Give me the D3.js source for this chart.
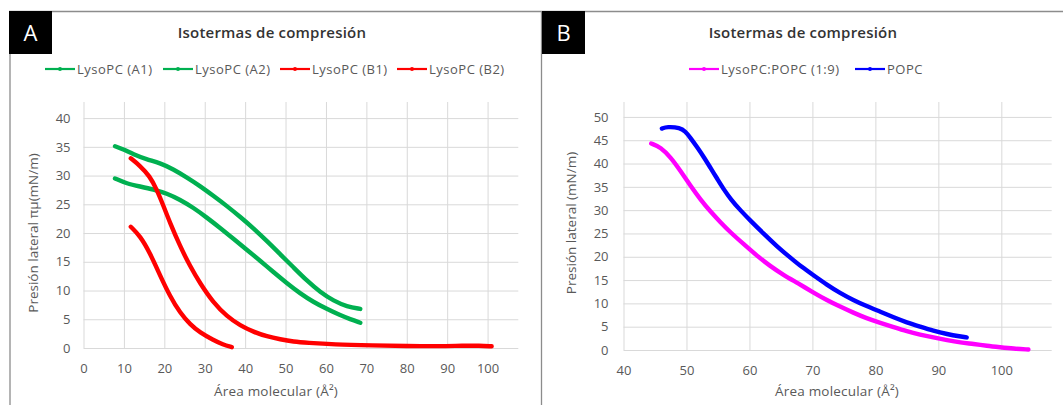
<!DOCTYPE html>
<html>
<head>
<meta charset="utf-8">
<script src="https://cdn.jsdelivr.net/npm/d3@7"></script>
<style>
  html, body { margin: 0; padding: 0; background: #fff; }
  svg { display: block; font-family: "Open Sans", "Noto Sans", sans-serif; }
</style>
</head>
<body>
<svg id="chart" width="1063" height="405"></svg>
<script>
// ---------------- DATA ----------------
const titleText = "Isotermas de compresión";
const xTitle = "Área molecular (Å²)";
const yTitleA = "Presión lateral πμ(mN/m)";
const yTitleB = "Presión lateral (mN/m)";

const xTicksA = [0, 10, 20, 30, 40, 50, 60, 70, 80, 90, 100];
const yTicksA = [0, 5, 10, 15, 20, 25, 30, 35, 40];
const xTicksB = [40, 50, 60, 70, 80, 90, 100];
const yTicksB = [0, 5, 10, 15, 20, 25, 30, 35, 40, 45, 50];

const namesA = ["LysoPC (A1)", "LysoPC (A2)", "LysoPC (B1)", "LysoPC (B2)"];
const namesB = ["LysoPC:POPC (1:9)", "POPC"];

// [area, pressure]
const lysoA1 = [[7.8,35.1],[9.8,34.6],[12.3,33.7],[15.6,32.8],[18.9,32.2],[22.2,31.1],[25.5,29.7],[28.8,28.2],[32.1,26.5],[35.5,24.7],[38.8,22.8],[42.1,20.8],[45.4,18.6],[48.7,16.3],[52.0,14.0],[55.3,11.7],[58.6,9.7],[61.9,8.2],[65.2,7.2],[68.5,6.8]];
const lysoA2 = [[7.8,29.5],[10.7,28.6],[14.0,28.1],[17.3,27.6],[20.6,26.9],[23.9,25.8],[27.2,24.4],[30.5,22.7],[33.8,20.9],[37.1,19.0],[40.4,17.1],[43.7,15.2],[47.0,13.2],[50.3,11.3],[53.6,9.5],[56.9,8.0],[60.2,6.8],[63.5,5.7],[66.0,5.0],[68.5,4.4]];
const lysoB1 = [[11.7,33.0],[14.0,31.7],[16.4,29.9],[18.1,27.6],[19.8,24.7],[21.4,21.8],[23.9,17.7],[26.4,14.2],[28.8,11.3],[32.1,7.9],[35.5,5.5],[38.8,3.9],[42.1,2.8],[45.4,2.0],[48.7,1.5],[52.0,1.1],[55.3,0.9],[61.9,0.6],[71.8,0.45],[80,0.35],[88,0.3],[94,0.4],[98,0.4],[101,0.3]];
const lysoB2 = [[11.7,21.1],[14.0,19.5],[16.4,16.6],[18.9,12.7],[21.4,9.0],[23.9,6.1],[26.4,4.1],[28.8,2.7],[32.1,1.4],[34.5,0.6],[36.7,0.15]];

const mixB = [[44.4,44.3],[45.9,43.5],[47.5,41.3],[49.0,38.5],[50.6,35.3],[52.2,32.3],[53.8,29.7],[55.4,27.4],[57.0,25.2],[59.1,22.7],[61.2,20.2],[63.3,18.0],[65.4,16.1],[67.6,14.4],[70.2,12.3],[72.3,10.7],[74.4,9.3],[76.5,8.0],[78.6,6.8],[80.8,5.8],[82.9,4.9],[85.0,4.0],[87.1,3.3],[89.2,2.7],[91.4,2.1],[93.5,1.6],[95.6,1.3],[97.7,0.9],[99.8,0.6],[101.9,0.3],[104.3,0.1]];
const popcB = [[46.1,47.5],[46.9,47.9],[49.0,47.7],[49.8,46.9],[50.6,45.6],[51.7,43.5],[52.8,41.3],[53.8,39.1],[54.9,36.7],[55.9,34.5],[57.0,32.4],[58.6,29.9],[60.2,27.7],[62.3,24.9],[64.4,22.2],[66.5,19.8],[68.3,17.8],[70.2,16.0],[72.3,14.0],[74.4,12.2],[76.5,10.7],[78.6,9.4],[80.8,8.2],[82.9,7.0],[85.0,5.9],[87.1,5.0],[89.2,4.1],[91.4,3.4],[93.5,2.9],[94.5,2.7]];

const colorsA = ["#00B050", "#00B050", "#FF0000", "#FF0000"];
const colorsB = ["#FF00FF", "#0000FF"];

// ---------------- DRAW ----------------
const svg = d3.select("#chart");
const gridColor = "#D9D9D9";
const textColor = "#595959";

function panel(cfg) {
  const g = svg.append("g");
  const x = d3.scaleLinear().domain(cfg.xDomain).range(cfg.xRange);
  const y = d3.scaleLinear().domain(cfg.yDomain).range(cfg.yRange);
  const top = cfg.yRange[1], bottom = cfg.yRange[0];
  const left = cfg.xRange[0], right = cfg.xRange[1];

  // vertical gridlines
  g.append("g").attr("transform", `translate(0,${bottom})`)
    .call(d3.axisBottom(x).tickValues(cfg.xTicks).tickSize(-(bottom - top)).tickFormat(""))
    .call(a => a.select(".domain").remove())
    .call(a => a.selectAll("line").attr("stroke", gridColor).attr("stroke-width", 1));
  // horizontal gridlines
  g.append("g").attr("transform", `translate(${left},0)`)
    .call(d3.axisLeft(y).tickValues(cfg.yTicks).tickSize(-(right - left)).tickFormat(""))
    .call(a => a.select(".domain").remove())
    .call(a => a.selectAll("line").attr("stroke", gridColor).attr("stroke-width", 1));

  // tick labels
  g.append("g").attr("transform", `translate(0,${bottom})`)
    .call(d3.axisBottom(x).tickValues(cfg.xTicks).tickSize(0).tickPadding(16))
    .call(a => a.select(".domain").remove())
    .call(a => a.selectAll("text").attr("fill", textColor).style("font-size", "13px").style("font-family", "'Open Sans', sans-serif"));
  g.append("g").attr("transform", `translate(${left},0)`)
    .call(d3.axisLeft(y).tickValues(cfg.yTicks).tickSize(0).tickPadding(cfg.yPad))
    .call(a => a.select(".domain").remove())
    .call(a => a.selectAll("text").attr("fill", textColor).style("font-size", "13px").style("font-family", "'Open Sans', sans-serif"));

  // series
  const line = d3.line().x(d => x(d[0])).y(d => y(d[1])).curve(d3.curveBasis);
  cfg.series.forEach((s, i) => {
    g.append("path").datum(s).attr("d", line)
      .attr("fill", "none").attr("stroke", cfg.colors[i])
      .attr("stroke-width", 4.4).attr("stroke-linecap", "round").attr("stroke-linejoin", "round");
  });

  // axis titles
  g.append("text").attr("x", cfg.xTitleX).attr("y", 396)
    .attr("text-anchor", "middle").attr("fill", textColor)
    .style("font-size", "13.5px").style("letter-spacing", "0.2px").text(xTitle);
  g.append("text").attr("transform", `translate(${cfg.yTitleX},${cfg.yTitleY}) rotate(-90)`)
    .attr("text-anchor", "middle").attr("fill", textColor)
    .style("font-size", "13.5px").text(cfg.yTitle);

  // chart title
  g.append("text").attr("x", cfg.titleX).attr("y", 38)
    .attr("text-anchor", "middle").attr("fill", "#333333")
    .style("font-size", "15px").style("font-weight", "600").style("letter-spacing", "0.2px").text(titleText);

  // legend
  cfg.legend.forEach((L, i) => {
    const lg = g.append("g").attr("transform", `translate(${L.x},69)`);
    lg.append("line").attr("x1", 0).attr("x2", 30).attr("y1", 0).attr("y2", 0)
      .attr("stroke", cfg.colors[i]).attr("stroke-width", 2.2);
    lg.append("circle").attr("cx", 15).attr("cy", 0).attr("r", 2).attr("fill", cfg.colors[i]);
    lg.append("text").attr("x", 32).attr("y", 4.5).attr("fill", textColor)
      .style("font-size", "13px").style("letter-spacing", "0.5px").text(cfg.names[i]);
  });

  // letter box
  svg.append("rect").attr("x", cfg.boxX).attr("y", 11).attr("width", 43).attr("height", 43).attr("fill", "#000");
  svg.append("text").attr("x", cfg.boxX + 21.5).attr("y", 41).attr("text-anchor", "middle")
    .attr("fill", "#fff").style("font-size", "22px").style("font-weight", "400").text(cfg.letter);
}

// frame lines
svg.append("line").attr("x1", 9).attr("x2", 1063).attr("y1", 11.5).attr("y2", 11.5).attr("stroke", "#8c8c8c").attr("stroke-width", 1.3);
svg.append("line").attr("x1", 10).attr("x2", 10).attr("y1", 11).attr("y2", 405).attr("stroke", "#8c8c8c").attr("stroke-width", 1.3);
svg.append("line").attr("x1", 541.5).attr("x2", 541.5).attr("y1", 11).attr("y2", 405).attr("stroke", "#8c8c8c").attr("stroke-width", 1.3);

panel({
  xDomain: [0, 107.6], xRange: [83.5, 518.3],
  yDomain: [0, 42.8], yRange: [348, 102],
  xTicks: xTicksA, yTicks: yTicksA, yPad: 13,
  series: [lysoA1, lysoA2, lysoB1, lysoB2], colors: colorsA, names: namesA,
  yTitle: yTitleA, yTitleX: 38, yTitleY: 233, xTitleX: 276,
  titleX: 272,
  legend: [{x: 45}, {x: 163}, {x: 280}, {x: 397}],
  boxX: 9, letter: "A"
});

panel({
  xDomain: [40, 108], xRange: [623.5, 1051.7],
  yDomain: [0, 53.2], yRange: [350, 102],
  xTicks: xTicksB, yTicks: yTicksB, yPad: 15,
  series: [mixB, popcB], colors: colorsB, names: namesB,
  yTitle: yTitleB, yTitleX: 576, yTitleY: 223, xTitleX: 837,
  titleX: 803,
  legend: [{x: 689}, {x: 855}],
  boxX: 542, letter: "B"
});
</script>
</body>
</html>
